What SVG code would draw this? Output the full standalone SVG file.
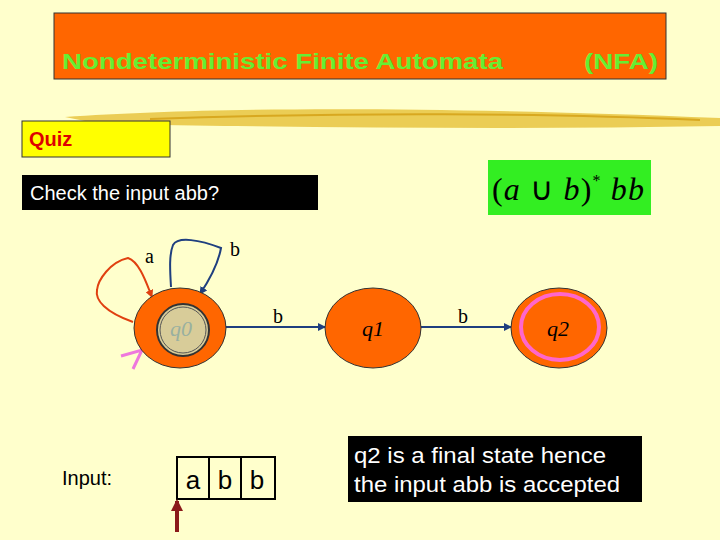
<svg xmlns="http://www.w3.org/2000/svg" width="720" height="540" viewBox="0 0 720 540">
<style>
.st{fill:#FF6600;stroke:#333;stroke-width:1}
.lbl{font-family:"Liberation Serif",serif;font-size:20px;fill:#000}
.ql{font-family:"Liberation Serif",serif;font-style:italic;font-size:22px}
.edge{stroke:#1F3F7F;stroke-width:2;fill:none;marker-end:url(#ah)}
</style>
<defs>
<marker id="ah" markerWidth="8" markerHeight="8" refX="7" refY="4" orient="auto" markerUnits="userSpaceOnUse"><path d="M0,0L8,4L0,8z" fill="#1F3F7F"/></marker>
<marker id="ahr" markerWidth="8" markerHeight="8" refX="7" refY="4" orient="auto" markerUnits="userSpaceOnUse"><path d="M0,0L8,4L0,8z" fill="#E04010"/></marker>
<marker id="ahd" markerWidth="12" markerHeight="12" refX="10" refY="6" orient="auto" markerUnits="userSpaceOnUse"><path d="M0,0L12,6L0,12z" fill="#8B1A1A"/></marker>
</defs>
<rect width="720" height="540" fill="#FFFFCC"/>
<g id="title">
<rect x="54" y="13" width="612" height="66" fill="#FF6600" stroke="#333"/>
<text x="62" y="69" font-family="Liberation Sans,sans-serif" font-weight="bold" font-size="22" fill="#66EE33" textLength="441" lengthAdjust="spacingAndGlyphs">Nondeterministic Finite Automata</text>
<text x="584" y="69" font-family="Liberation Sans,sans-serif" font-weight="bold" font-size="22" fill="#66EE33" textLength="74" lengthAdjust="spacingAndGlyphs">(NFA)</text>
</g>
<path d="M65,117 C200,108 400,105 720,118 L720,126 C500,130 300,127 100,124 Z" fill="#E8C440" opacity="0.85"/>
<path d="M150,119 C350,112 550,113 700,120" stroke="#D8A820" stroke-width="2" fill="none"/>
<g id="quiz"><rect x="22" y="121" width="148" height="36" fill="#FFFF00" stroke="#333"/>
<text x="29" y="146" font-family="Liberation Sans,sans-serif" font-weight="bold" font-size="20" fill="#DD0000">Quiz</text></g>
<g id="check"><rect x="22" y="175" width="296" height="35" fill="#000"/>
<text x="30" y="200" font-family="Liberation Sans,sans-serif" font-size="20" fill="#fff">Check the input abb?</text></g>
<g id="regex"><rect x="488" y="160" width="163" height="55" fill="#33EE22"/>
<text x="492" y="200" font-family="Liberation Serif,serif" font-size="32" fill="#000" textLength="152" lengthAdjust="spacing"><tspan>(</tspan><tspan font-style="italic">a</tspan><tspan> ∪ </tspan><tspan font-style="italic">b</tspan><tspan>)</tspan><tspan font-size="16" dy="-14">*</tspan><tspan dy="14" font-style="italic"> bb</tspan></text></g>
<g id="connectors">
<path d="M133,322 C105,312 95,300 97,290 C98,280 110,262 128,258 C140,262 147,285 152,297" stroke="#E04010" stroke-width="2" fill="none" marker-end="url(#ahr)"/>
<path d="M171,287 C170,270 169,255 173,245 C178,236 200,240 221,248 C218,265 208,282 200,294" class="edge"/>
<line x1="226" y1="327" x2="325" y2="327" class="edge"/>
<line x1="421" y1="327" x2="511" y2="327" class="edge"/>
<polyline points="121,356 142,350 133,369" stroke="#EE77DD" stroke-width="3" fill="none"/>
<text x="145" y="263" class="lbl">a</text>
<text x="230" y="256" class="lbl">b</text>
<text x="273" y="323" class="lbl">b</text>
<text x="458" y="323" class="lbl">b</text>
</g>
<g id="q0"><ellipse cx="180" cy="328" rx="46" ry="40" class="st"/>
<circle cx="183" cy="330" r="26" fill="#D8CC99" stroke="#333" stroke-width="2"/>
<circle cx="183" cy="330" r="23" fill="none" stroke="#555" stroke-width="1"/>
<text x="181" y="336" text-anchor="middle" class="ql" fill="#99B0A0">q0</text></g>
<g id="q1"><ellipse cx="373" cy="328" rx="48" ry="40" class="st"/>
<text x="373" y="336" text-anchor="middle" class="ql" fill="#000">q1</text></g>
<g id="q2"><ellipse cx="559" cy="328" rx="48" ry="40" class="st"/>
<ellipse cx="560" cy="327" rx="39" ry="33" fill="none" stroke="#FF66CC" stroke-width="4"/>
<text x="558" y="336" text-anchor="middle" class="ql" fill="#000">q2</text></g>
<g id="input">
<text x="62" y="485" font-family="Liberation Sans,sans-serif" font-size="20">Input:</text>
<rect x="177" y="457" width="98" height="42" fill="none" stroke="#000" stroke-width="2"/>
<line x1="209" y1="457" x2="209" y2="499" stroke="#000" stroke-width="2"/>
<line x1="241" y1="457" x2="241" y2="499" stroke="#000" stroke-width="2"/>
<text x="193" y="489" font-family="Liberation Sans,sans-serif" font-size="26" text-anchor="middle">a</text>
<text x="225" y="489" font-family="Liberation Sans,sans-serif" font-size="26" text-anchor="middle">b</text>
<text x="257" y="489" font-family="Liberation Sans,sans-serif" font-size="26" text-anchor="middle">b</text>
<line x1="177" y1="532" x2="177" y2="501" stroke="#8B1A1A" stroke-width="4" marker-end="url(#ahd)"/>
</g>
<g id="result"><rect x="348" y="436" width="294" height="66" fill="#000"/>
<text font-family="Liberation Sans,sans-serif" font-size="22" fill="#fff"><tspan x="354" y="463" textLength="252" lengthAdjust="spacingAndGlyphs">q2 is a final state hence</tspan><tspan x="354" y="492" textLength="266" lengthAdjust="spacingAndGlyphs">the input abb is accepted</tspan></text></g>
</svg>
